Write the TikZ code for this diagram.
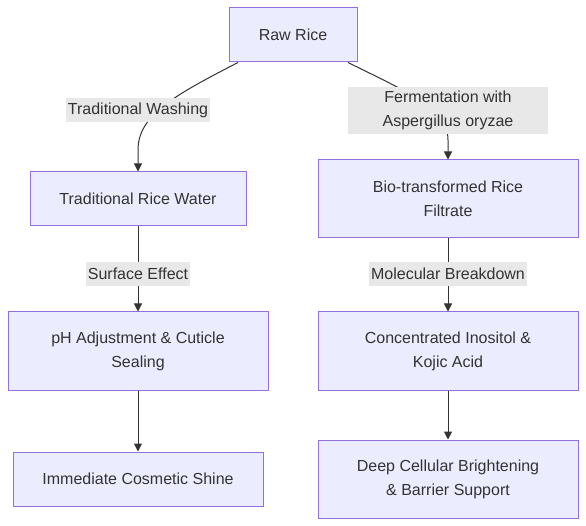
\documentclass[tikz,border=0pt]{standalone}
\usepackage{fontspec}
\setmainfont{Liberation Sans}
\usetikzlibrary{arrows.meta}
\definecolor{nodefill}{HTML}{ECECFF}
\definecolor{nodeline}{HTML}{9370DB}
\definecolor{labelbg}{HTML}{E8E8E8}
\definecolor{txt}{HTML}{333333}
\definecolor{edge}{HTML}{333333}
\tikzset{
  box/.style={draw=nodeline, fill=nodefill, line width=1pt, text=txt,
    font=\fontsize{16pt}{24pt}\selectfont, align=center, inner sep=0pt,
    minimum height=54pt},
  twoline/.style={box, minimum width=260pt, minimum height=78pt},
  elabel/.style={fill=labelbg, text=txt, font=\fontsize{16pt}{24pt}\selectfont,
    align=center, inner xsep=2pt, inner ysep=0pt, minimum height=24pt},
  conn/.style={draw=edge, line width=1pt, -{Triangle[length=8pt,width=8pt]}},
}
\begin{document}
\begin{tikzpicture}[x=1pt,y=-1pt]
\useasboundingbox (0,0) rectangle (586,526);
\node[box, minimum width=128pt] (raw) at (293,35) {Raw Rice};
\node[box, minimum width=216pt] (trw) at (138,199) {Traditional Rice Water};
\node[twoline] (bio) at (448,199) {Bio-transformed Rice\\Filtrate};
\node[twoline] (ph) at (138,351) {pH Adjustment \& Cuticle\\Sealing};
\node[twoline] (conc) at (448,351) {Concentrated Inositol \&\\Kojic Acid};
\node[box, minimum width=250pt] (shine) at (138,479) {Immediate Cosmetic Shine};
\node[twoline] (deep) at (448,479) {Deep Cellular Brightening\\\& Barrier Support};

\draw[conn] ([xshift=-55pt]raw.south) .. controls (175,95) and (138,115) .. (138,150) -- (trw.north);
\draw[conn] ([xshift=55pt]raw.south) .. controls (420,98) and (448,110) .. (448,140) -- (bio.north);
\draw[conn] (trw.south) -- (ph.north);
\draw[conn] (bio.south) -- (conc.north);
\draw[conn] (ph.south) -- (shine.north);
\draw[conn] (conc.south) -- (deep.north);

\node[elabel] (l1) at (138,110.5) {Traditional Washing};
\node[elabel, minimum width=200pt, minimum height=47pt] (l2) at (448,110.5) {Fermentation with\\Aspergillus oryzae};
\node[elabel] (l3) at (138,274) {Surface Effect};
\node[elabel] (l4) at (448,274) {Molecular Breakdown};
\end{tikzpicture}
\end{document}
